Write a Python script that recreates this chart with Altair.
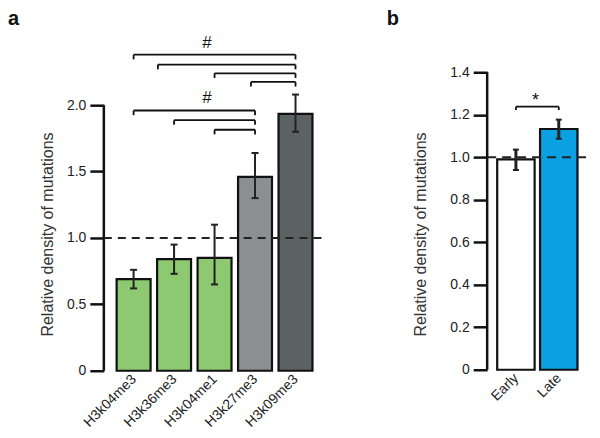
import json
import altair as alt
import pandas as pd

FONT = "Liberation Sans"

# ---------------- panel a ----------------
a_categories = ["H3k04me3", "H3k36me3", "H3k04me1", "H3k27me3", "H3k09me3"]
a_means = [0.69, 0.84, 0.85, 1.46, 1.935]
a_err_low = [0.62, 0.73, 0.65, 1.30, 1.80]
a_err_high = [0.76, 0.95, 1.10, 1.64, 2.08]
a_colors = ["#8dc971", "#8dc971", "#8dc971", "#8b8f90", "#5c6263"]
# significance brackets (positions in category index units)
a_bracket_from = [0, 0.6, 2.0, 2.9, 0, 1, 2]
a_bracket_to = [4, 4, 4, 4, 3, 3, 3]
a_bracket_level = [2.38, 2.305, 2.24, 2.175, 1.96, 1.887, 1.815]
a_sig_pos = [1.81, 1.81]
a_sig_level = [2.43, 2.02]
a_sig_text = ["#", "#"]
a_yticks = [0, 0.5, 1.0, 1.5, 2.0]
a_ymax = 2.248

# ---------------- panel b ----------------
b_categories = ["Early", "Late"]
b_means = [0.99, 1.133]
b_err_low = [0.94, 1.087]
b_err_high = [1.036, 1.177]
b_colors = ["#ffffff", "#0aa1e2"]
b_bracket_from = [0]
b_bracket_to = [1]
b_bracket_level = [1.238]
b_sig_pos = [0.46]
b_sig_level = [1.24]
b_sig_text = ["*"]
b_yticks = [0, 0.2, 0.4, 0.6, 0.8, 1.0, 1.2, 1.4]
b_ymax = 1.4

reference_level = [1.0]
y_title = "Relative density of mutations"


def panel(cats, means, lo, hi, colors, bfrom, bto, blev, spos, slev, stext, yticks, ymax,
          letter, width, height, xdom, bar_size, err_width, cap_size, drop, dash,
          title_pad, title_y, letter_x, letter_y, sig_size):
    n = len(cats)
    df = pd.DataFrame({"idx": list(range(n)), "cat": cats, "mean": means,
                       "lo": lo, "hi": hi, "color": colors})
    xscale = alt.Scale(domain=xdom, nice=False, zero=False)
    yscale = alt.Scale(domain=[0, ymax], nice=False, zero=True)
    xaxis = alt.Axis(values=list(range(n)), labelExpr=json.dumps(cats) + "[datum.value]",
                     labelAngle=-45, labelAlign="right", labelBaseline="middle",
                     labelPadding=6, ticks=False, domain=False, grid=False,
                     labelFontSize=14, labelColor="#222222", labelOverlap=False,
                     labelFlush=False, title=None)
    yaxis = alt.Axis(values=yticks,
                     labelExpr="datum.value == 0 ? '0' : format(datum.value, '.1f')",
                     tickSize=14, tickWidth=2.5, tickColor="#111111",
                     domain=False, grid=False,
                     labelFontSize=14, labelColor="#222222", labelPadding=4,
                     title=y_title, titleFontSize=16, titleFontWeight="normal",
                     titleColor="#333333", titlePadding=title_pad, titleY=title_y)
    X = lambda f: alt.X(f, scale=xscale, axis=xaxis)
    Y = lambda f: alt.Y(f, scale=yscale, axis=yaxis)
    base = alt.Chart(df)
    bars = base.mark_bar(size=bar_size, stroke="#111111", strokeWidth=2.2,
                         orient="vertical").encode(
        x=X("idx:Q"), y=Y("mean:Q"), fill=alt.Fill("color:N", scale=None))
    axis_line = alt.Chart(pd.DataFrame({"y0": [min(yticks)], "y1": [max(yticks)]})).mark_rule(
        strokeWidth=2.5, color="#111111").encode(x=alt.value(0), y=Y("y0:Q"), y2="y1:Q")
    ref = alt.Chart(pd.DataFrame({"level": reference_level})).mark_rule(
        strokeDash=dash, strokeWidth=2, color="#222222").encode(
        x=alt.value(0), x2=alt.value(width), y=Y("level:Q"))
    err = base.mark_rule(strokeWidth=err_width, color="#222222").encode(
        x=X("idx:Q"), y=Y("lo:Q"), y2="hi:Q")
    cap_lo = base.mark_tick(orient="horizontal", size=cap_size, thickness=2,
                            color="#222222", opacity=1).encode(x=X("idx:Q"), y=Y("lo:Q"))
    cap_hi = base.mark_tick(orient="horizontal", size=cap_size, thickness=2,
                            color="#222222", opacity=1).encode(x=X("idx:Q"), y=Y("hi:Q"))
    brk = alt.Chart(pd.DataFrame({"from": bfrom, "to": bto, "level": blev})).transform_calculate(
        bottom=f"datum.level - {drop}")
    hline = brk.mark_rule(strokeWidth=1.8, color="#111111").encode(
        x=X("from:Q"), x2="to:Q", y=Y("level:Q"))
    lleg = brk.mark_rule(strokeWidth=1.8, color="#111111").encode(
        x=X("from:Q"), y=Y("level:Q"), y2="bottom:Q")
    rleg = brk.mark_rule(strokeWidth=1.8, color="#111111").encode(
        x=X("to:Q"), y=Y("level:Q"), y2="bottom:Q")
    sig = alt.Chart(pd.DataFrame({"pos": spos, "level": slev, "text": stext})).mark_text(
        fontSize=sig_size, align="center", baseline="alphabetic", color="#111111").encode(
        x=X("pos:Q"), y=Y("level:Q"), text="text:N")
    lab = alt.Chart(pd.DataFrame({"t": [letter]})).mark_text(
        fontSize=20, fontWeight="bold", align="left", baseline="alphabetic",
        color="#111111").encode(x=alt.value(letter_x), y=alt.value(letter_y), text="t:N")
    return alt.layer(bars, axis_line, ref, err, cap_lo, cap_hi, hline, lleg, rleg, sig, lab).properties(
        width=width, height=height)


panel_a = panel(a_categories, a_means, a_err_low, a_err_high, a_colors,
                a_bracket_from, a_bracket_to, a_bracket_level,
                a_sig_pos, a_sig_level, a_sig_text, a_yticks, a_ymax,
                "a", 218, 299, [-0.612, 4.518], 34, 2, 7, 0.035, [8, 6],
                11, 162, -96, -47.7, 17)
panel_b = panel(b_categories, b_means, b_err_low, b_err_high, b_colors,
                b_bracket_from, b_bracket_to, b_bracket_level,
                b_sig_pos, b_sig_level, b_sig_text, b_yticks, b_ymax,
                "b", 104, 298, [-0.554, 1.636], 37.5, 3, 6, 0.016, [9, 6],
                21, 162, -100.7, -47.7, 18)

chart = alt.hconcat(panel_a, panel_b, spacing=64).properties(
    padding={"left": 0, "top": 0, "right": 0, "bottom": 0}
).configure(font=FONT).configure_view(stroke=None)

chart.save("out.html", embed_options={"renderer": "svg", "actions": False})
